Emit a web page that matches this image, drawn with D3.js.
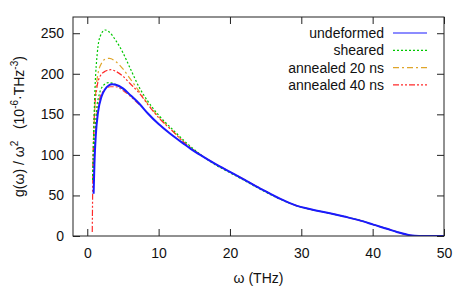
<!DOCTYPE html>
<html>
<head>
<meta charset="utf-8">
<script src="https://cdn.jsdelivr.net/npm/d3@7"></script>
<style>
  body { margin: 0; background: #fff; }
  svg { display: block; font-family: "Liberation Sans", Arial, sans-serif; }
</style>
</head>
<body>
<svg id="chart" width="469" height="290"></svg>
<script>
// values: omega (THz) and g(w)/w^2
let undeformed = [[0.89,52],[1.0,88],[1.2,125],[1.5,152],[2,172],[2.5,181],[3,185.5],[3.5,187],[4,186.5],[5,182],[6,174],[7.3,163],[8.5,151],[10,138],[11.5,127],[12.7,119],[13.4,114.5],[14.5,107.5],[16,99],[18,88.5],[20,79],[22,69.5],[24.6,57],[27,46],[29.3,37.5],[31,33.5],[34,28],[36,24],[38.7,18],[40.1,14],[42,9],[43.4,5],[45.2,1],[46.5,0],[50,0]]
let sheared = [[0.75,69],[0.9,130],[1.1,185],[1.4,225],[1.8,246],[2.5,254],[3,252],[4,241],[5,226],[6,207],[7.3,183],[8.5,166],[10,149],[12,131],[14,114],[16,99.5],[18,87.5],[20,78],[22,68.5],[24.6,56],[27,45.5],[29.3,37.5],[31,33.5],[34,28],[36,24],[38.7,18],[40.1,14],[42,9],[43.4,5],[45.2,1],[46.5,0],[50,0]]
let annealed20 = [[0.75,69],[0.9,120],[1.1,165],[1.5,200],[2,213],[2.5,218],[3.1,219],[4,215],[5,206],[6,194],[7.3,178],[8.5,163],[10,147],[12,129],[14,112],[16,99.5],[18,88.5],[20,79],[22,69.5],[24.6,57],[27,46],[29.3,37.5],[31,33.5],[34,28],[36,24],[38.7,18],[40.1,14],[42,9],[43.4,5],[45.2,1],[46.5,0],[50,0]]
let annealed40 = [[0.7,5],[0.75,50],[0.85,110],[1,150],[1.3,180],[1.8,197],[2.5,203],[3.3,205],[4,203],[5,197],[6,188],[7.3,176],[8.5,162],[10,146],[12,129],[14,112],[16,99.5],[18,88.5],[20,79],[22,69.5],[24.6,57],[27,46],[29.3,37.5],[31,33.5],[34,28],[36,24],[38.7,18],[40.1,14],[42,9],[43.4,5],[45.2,1],[46.5,0],[50,0]]
// unlabelled curves lying close to the undeformed one
let shearedLow = [[0.8,69],[1.0,110],[1.3,155],[1.7,175],[2.3,186],[2.95,189],[3.5,188.5],[4.5,184],[6,174],[7.3,163]]
let annealedLow = [[0.8,69],[1.0,100],[1.3,145],[1.7,168],[2.3,179],[3.2,184],[4,184],[5,179.5],[6,172.5],[7.3,162]]

let xTicks = [0, 10, 20, 30, 40, 50]
let yTicks = [0, 50, 100, 150, 200, 250]

let series = [
  {name: "undeformed", data: undeformed, color: "#1a1aff", dash: null, width: 2},
  {name: "sheared", data: sheared, color: "#00c800", dash: "2,2", width: 1.2},
  {name: "annealed 20 ns", data: annealed20, color: "#dfa52a", dash: "6,3,2,3", width: 1.2},
  {name: "annealed 40 ns", data: annealed40, color: "#ff2a2a", dash: "6,2,2,2,2,2", width: 1.2}
]
let extra = [
  {data: annealedLow, color: "#ff4040", dash: "6,2,2,2,2,2", width: 1.2},
  {data: shearedLow, color: "#00c800", dash: "2,2", width: 1.2}
]

let margin = {top: 17, right: 25, bottom: 54, left: 73};
let width = 469 - margin.left - margin.right;
let height = 290 - margin.top - margin.bottom;

let svg = d3.select("#chart");
let g = svg.append("g").attr("transform", `translate(${margin.left},${margin.top})`);

let x = d3.scaleLinear().domain([-2, 50]).range([0, width]);
let y = d3.scaleLinear().domain([0, 270]).range([height, 0]);

g.append("clipPath").attr("id", "clip")
  .append("rect").attr("width", width).attr("height", height);

let tickLen = 7;
let axisStyle = sel => {
  sel.select(".domain").remove();
  sel.selectAll("line").attr("stroke", "#222").attr("stroke-width", 1);
  sel.selectAll("text").attr("fill", "#111").style("font-size", "14px");
}

g.append("g").attr("transform", `translate(0,${height})`)
  .call(d3.axisBottom(x).tickValues(xTicks).tickSize(-tickLen).tickPadding(12))
  .call(axisStyle);
g.append("g")
  .call(d3.axisTop(x).tickValues(xTicks).tickSize(-tickLen).tickFormat(""))
  .call(axisStyle);
g.append("g")
  .call(d3.axisLeft(y).tickValues(yTicks).tickSize(-tickLen).tickPadding(9))
  .call(axisStyle);
g.append("g").attr("transform", `translate(${width},0)`)
  .call(d3.axisRight(y).tickValues(yTicks).tickSize(-tickLen).tickFormat(""))
  .call(axisStyle);

let line = d3.line()
  .x(d => x(d[0]))
  .y(d => y(d[1]))
  .curve(d3.curveMonotoneX);

let plot = g.append("g").attr("clip-path", "url(#clip)");
let drawOrder = [series[2], series[3], extra[0], extra[1], series[1], series[0]];
plot.selectAll("path")
  .data(drawOrder)
  .enter()
  .append("path")
  .attr("fill", "none")
  .attr("stroke", d => d.color)
  .attr("stroke-width", d => d.width)
  .attr("stroke-dasharray", d => d.dash)
  .attr("d", d => line(d.data));

g.append("rect")
  .attr("width", width).attr("height", height)
  .attr("fill", "none").attr("stroke", "#222").attr("stroke-width", 1);

// legend
let legend = g.append("g").attr("transform", `translate(${384 - margin.left},${33 - margin.top})`);
series.forEach((s, i) => {
  let row = legend.append("g").attr("transform", `translate(0,${i * 17.3})`);
  row.append("text")
    .attr("text-anchor", "end").attr("dy", "0.35em")
    .style("font-size", "14px").attr("fill", "#111")
    .text(s.name);
  row.append("line")
    .attr("x1", 9).attr("x2", 43)
    .attr("stroke", s.color)
    .attr("stroke-width", 1.2)
    .attr("stroke-dasharray", s.dash);
});

// axis labels
svg.append("text")
  .attr("x", margin.left + width / 2).attr("y", 283)
  .attr("text-anchor", "middle").style("font-size", "14px").attr("fill", "#111")
  .text("ω (THz)");

let ylab = svg.append("text")
  .attr("transform", `translate(24,${margin.top + height / 2}) rotate(-90)`)
  .attr("text-anchor", "middle").style("font-size", "14px").attr("fill", "#111");
ylab.append("tspan").text("g(ω) / ω");
ylab.append("tspan").attr("dy", -6).style("font-size", "10px").text("2");
ylab.append("tspan").attr("dy", 6).text("\u00a0\u00a0\u00a0(10");
ylab.append("tspan").attr("dy", -6).style("font-size", "10px").text("-6");
ylab.append("tspan").attr("dy", 6).text("·THz");
ylab.append("tspan").attr("dy", -6).style("font-size", "10px").text("-3");
ylab.append("tspan").attr("dy", 6).text(")");
</script>
</body>
</html>
